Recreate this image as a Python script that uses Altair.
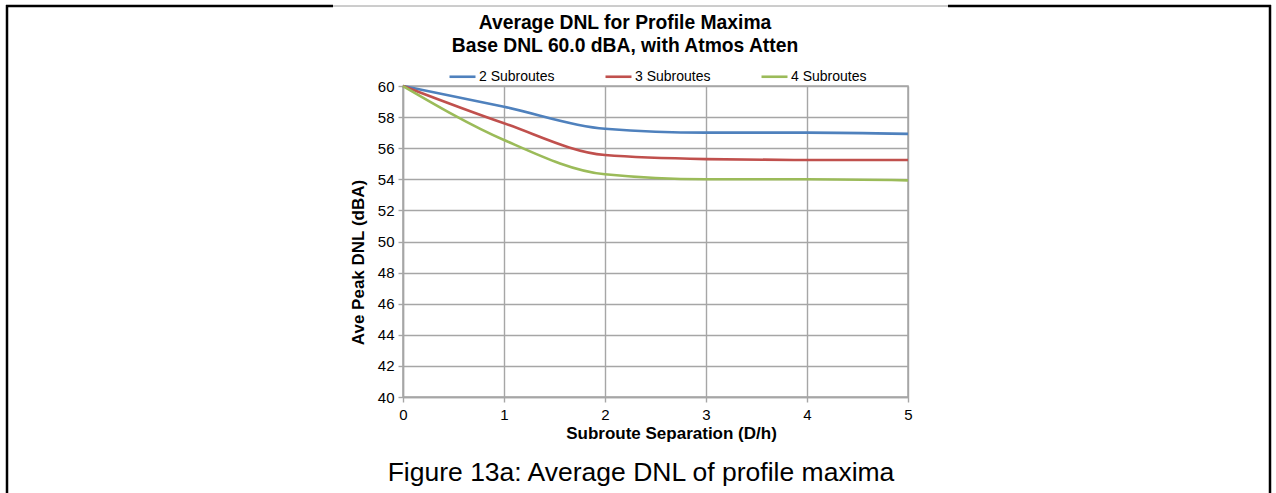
import altair as alt
import pandas as pd

# Average peak DNL versus subroute separation, one series per subroute count
separation = [0, 1, 2, 3, 4, 5]
dnl_2_subroutes = [60.0, 58.67, 57.25, 57.0, 57.0, 56.92]
dnl_3_subroutes = [60.0, 57.6, 55.56, 55.3, 55.24, 55.24]
dnl_4_subroutes = [60.0, 56.53, 54.32, 54.0, 54.0, 53.93]
series_names = ["2 Subroutes", "3 Subroutes", "4 Subroutes"]
series_colors = ["#4f81bd", "#c0504d", "#9bbb59"]
y_ticks = list(range(40, 61, 2))
x_ticks = [0, 1, 2, 3, 4, 5]

title_lines = ["Average DNL for Profile Maxima", "Base DNL 60.0 dBA, with Atmos Atten"]
x_title = "Subroute Separation (D/h)"
y_title = "Ave Peak DNL (dBA)"
caption = "Figure 13a: Average DNL of profile maxima"

rows = []
for name, vals in zip(series_names, [dnl_2_subroutes, dnl_3_subroutes, dnl_4_subroutes]):
    for x, v in zip(separation, vals):
        rows.append({"separation": x, "dnl": v, "series": name})
df = pd.DataFrame(rows)

FONT = "Liberation Sans"
W, H = 505, 311
LEFT, TOP = 403, 86

lines = alt.Chart(df).mark_line(strokeWidth=2.6, interpolate="monotone").encode(
    x=alt.X(
        "separation:Q",
        scale=alt.Scale(domain=[0, 5], nice=False, zero=False),
        axis=alt.Axis(
            values=x_ticks, title=x_title, format="d", labelFlush=False,
            titleX=268, titleY=36, titleBaseline="middle", titleAlign="center",
        ),
    ),
    y=alt.Y(
        "dnl:Q",
        scale=alt.Scale(domain=[40, 60], nice=False, zero=False),
        axis=alt.Axis(
            values=y_ticks, title=y_title, format="d", labelFlush=False,
            titleX=-45, titleY=176, titleAngle=270, titleBaseline="middle", titleAlign="center",
        ),
    ),
    color=alt.Color(
        "series:N",
        scale=alt.Scale(domain=series_names, range=series_colors),
        legend=alt.Legend(
            title=None, orient="none", legendX=45, legendY=-24, direction="horizontal",
            symbolType="stroke", symbolSize=676, symbolStrokeWidth=2.6,
            labelFontSize=14, labelFont=FONT, labelColor="#000000", labelOffset=2,
            columnPadding=45,
        ),
    ),
)

blank = alt.Data(values=[{}])
frame_color = "#000000"
frame = [
    alt.Chart(blank).mark_rule(color=frame_color, strokeWidth=2.5).encode(
        x=alt.value(7 - LEFT), y=alt.value(5 - TOP), y2=alt.value(493 - TOP)),
    alt.Chart(blank).mark_rule(color=frame_color, strokeWidth=2.5).encode(
        x=alt.value(1270 - LEFT), y=alt.value(5 - TOP), y2=alt.value(493 - TOP)),
    alt.Chart(blank).mark_rule(color=frame_color, strokeWidth=2.5).encode(
        x=alt.value(6 - LEFT), x2=alt.value(333 - LEFT), y=alt.value(6 - TOP)),
    alt.Chart(blank).mark_rule(color="#9a9a9a", strokeWidth=1).encode(
        x=alt.value(333 - LEFT), x2=alt.value(948 - LEFT), y=alt.value(6 - TOP)),
    alt.Chart(blank).mark_rule(color=frame_color, strokeWidth=2.5).encode(
        x=alt.value(948 - LEFT), x2=alt.value(1271 - LEFT), y=alt.value(6 - TOP)),
]

# Two-line chart heading, set as text above the plot
heading = [
    alt.Chart(blank).mark_text(
        font=FONT, fontSize=19.3, fontWeight="bold", color="#000000",
        align="center", baseline="middle",
    ).encode(x=alt.value(625 - LEFT), y=alt.value(yc - TOP), text=alt.value(t))
    for t, yc in zip(title_lines, [23, 46])
]

caption_text = alt.Chart(blank).mark_text(
    font=FONT, fontSize=26.5, color="#000000", align="center", baseline="middle"
).encode(x=alt.value(641 - LEFT), y=alt.value(473 - TOP), text=alt.value(caption))

chart = alt.layer(lines, caption_text, *heading, *frame).properties(
    width=W,
    height=H,
    autosize=alt.AutoSizeParams(type="none"),
    padding={"left": LEFT, "top": TOP, "right": 1276 - LEFT - W, "bottom": 493 - TOP - H},
    background="#ffffff",
).configure_view(
    stroke="#a6a6a6", strokeWidth=1.5
).configure_axis(
    grid=True, gridColor="#a6a6a6", gridWidth=1.4,
    domainColor="#a6a6a6", domainWidth=1.4,
    tickColor="#a6a6a6", tickSize=5, tickWidth=1.4,
    labelFont=FONT, labelFontSize=15, labelColor="#000000",
    titleFont=FONT, titleFontSize=17, titleFontWeight="bold", titleColor="#000000",
).configure_axisY(
    labelPadding=4
).configure_axisX(
    labelPadding=5
)

chart.save("out.html", embed_options={"renderer": "svg", "actions": False})
